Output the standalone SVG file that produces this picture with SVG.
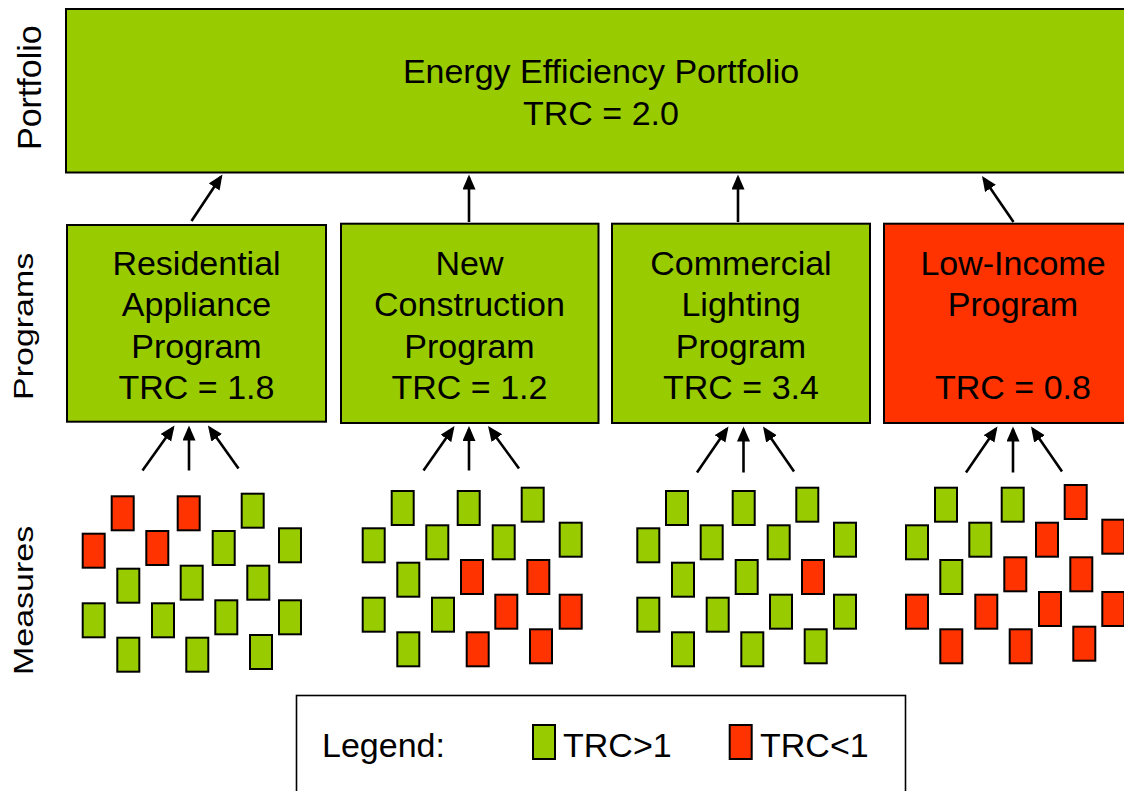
<svg xmlns="http://www.w3.org/2000/svg" width="1124" height="791" viewBox="0 0 1124 791">
<style>
text{font-family:"Liberation Sans",Arial,sans-serif;font-size:34px;fill:#000}
.c{text-anchor:middle}
.box{stroke:#000;stroke-width:2}
.gf{fill:#99CC00}
.rf{fill:#FF3300}
.m rect{stroke:#000;stroke-width:2;width:22px;height:34px}
.m .g{fill:#99CC00}
.m .r{fill:#FF3300}
.ar{stroke:#000;stroke-width:2.6;fill:none;marker-end:url(#ah)}
</style>
<defs>
<marker id="ah" markerUnits="userSpaceOnUse" viewBox="0 0 16 14" markerWidth="16" markerHeight="14" refX="12" refY="6.5" orient="auto">
<path d="M0,0 L15,6.5 L0,13 z" fill="#000"/>
</marker>
</defs>
<rect width="1124" height="791" fill="#fff"/>

<g id="labels">
<text transform="translate(41,150) rotate(-90)">Portfolio</text>
<text transform="translate(33,400) rotate(-90) scale(1,0.82)">Programs</text>
<text transform="translate(33,675) rotate(-90) scale(1,0.82)">Measures</text>
</g>

<g id="portfolio">
<rect class="box gf" x="66" y="9" width="1075" height="163.5"/>
<text class="c" x="601" y="83">Energy Efficiency Portfolio</text>
<text class="c" x="601" y="124.5">TRC = 2.0</text>
</g>

<g id="prog-residential">
<rect class="box gf" x="67" y="225" width="259" height="196.7"/>
<text class="c" x="196.5" y="274.5">Residential</text>
<text class="c" x="196.5" y="316">Appliance</text>
<text class="c" x="196.5" y="357.5">Program</text>
<text class="c" x="196.5" y="399">TRC = 1.8</text>
</g>

<g id="prog-newconstruction">
<rect class="box gf" x="341" y="223.7" width="257.5" height="199.3"/>
<text class="c" x="469.5" y="274.5">New</text>
<text class="c" x="469.5" y="316">Construction</text>
<text class="c" x="469.5" y="357.5">Program</text>
<text class="c" x="469.5" y="399">TRC = 1.2</text>
</g>

<g id="prog-commercial">
<rect class="box gf" x="612" y="223.7" width="258" height="199.3"/>
<text class="c" x="741" y="274.5">Commercial</text>
<text class="c" x="741" y="316">Lighting</text>
<text class="c" x="741" y="357.5">Program</text>
<text class="c" x="741" y="399">TRC = 3.4</text>
</g>

<g id="prog-lowincome">
<rect class="box rf" x="884" y="223.7" width="260" height="199.3"/>
<text class="c" x="1013" y="274.5">Low-Income</text>
<text class="c" x="1013" y="316">Program</text>
<text class="c" x="1013" y="399">TRC = 0.8</text>
</g>

<g id="connectors">
<line class="ar" x1="191.5" y1="221" x2="220.8" y2="177"/>
<line class="ar" x1="469" y1="222" x2="469" y2="177.5"/>
<line class="ar" x1="738" y1="222" x2="738" y2="177.5"/>
<line class="ar" x1="1013.5" y1="222" x2="983.7" y2="178.5"/>

<line class="ar" x1="142.5" y1="470.5" x2="172.8" y2="428"/>
<line class="ar" x1="189" y1="470.5" x2="189" y2="428.5"/>
<line class="ar" x1="238.5" y1="468.5" x2="209.7" y2="428"/>

<line class="ar" x1="423.5" y1="470.5" x2="452.8" y2="428.5"/>
<line class="ar" x1="469" y1="470.5" x2="469" y2="429"/>
<line class="ar" x1="519" y1="468.5" x2="489.8" y2="428.4"/>

<line class="ar" x1="697" y1="472.5" x2="726.8" y2="429"/>
<line class="ar" x1="743.5" y1="472.5" x2="743.5" y2="429.5"/>
<line class="ar" x1="794" y1="471.5" x2="764.7" y2="429"/>

<line class="ar" x1="966" y1="472.5" x2="995.8" y2="429"/>
<line class="ar" x1="1013" y1="472.5" x2="1013" y2="429.5"/>
<line class="ar" x1="1062" y1="471.5" x2="1032.7" y2="429"/>
</g>

<g id="measures-residential" class="m">
<rect class="r" x="111.7" y="496.3" width="22" height="34"/>
<rect class="r" x="177.7" y="496.3" width="22" height="34"/>
<rect class="g" x="241.7" y="493.7" width="22" height="34"/>
<rect class="r" x="82.7" y="533.7" width="22" height="34"/>
<rect class="r" x="146.3" y="531" width="22" height="34"/>
<rect class="g" x="212.7" y="531" width="22" height="34"/>
<rect class="g" x="279" y="528.3" width="22" height="34"/>
<rect class="g" x="117.3" y="568.7" width="22" height="34"/>
<rect class="g" x="180.7" y="565.7" width="22" height="34"/>
<rect class="g" x="247.3" y="565.7" width="22" height="34"/>
<rect class="g" x="82.7" y="603.3" width="22" height="34"/>
<rect class="g" x="152" y="603.3" width="22" height="34"/>
<rect class="g" x="215.3" y="600.3" width="22" height="34"/>
<rect class="g" x="279" y="600.3" width="22" height="34"/>
<rect class="g" x="117.3" y="637.7" width="22" height="34"/>
<rect class="g" x="186.3" y="637.7" width="22" height="34"/>
<rect class="g" x="250" y="635" width="22" height="34"/>
</g>

<g id="measures-newconstruction" class="m">
<rect class="g" x="391.7" y="491" width="22" height="34"/>
<rect class="g" x="457.7" y="491" width="22" height="34"/>
<rect class="g" x="521.7" y="487.7" width="22" height="34"/>
<rect class="g" x="362.7" y="528.3" width="22" height="34"/>
<rect class="g" x="426.3" y="525.3" width="22" height="34"/>
<rect class="g" x="492.7" y="525.3" width="22" height="34"/>
<rect class="g" x="559.7" y="522.7" width="22" height="34"/>
<rect class="g" x="397.3" y="562.7" width="22" height="34"/>
<rect class="r" x="461" y="560" width="22" height="34"/>
<rect class="r" x="527.3" y="560" width="22" height="34"/>
<rect class="g" x="362.7" y="597.7" width="22" height="34"/>
<rect class="g" x="432" y="597.7" width="22" height="34"/>
<rect class="r" x="495.3" y="594.7" width="22" height="34"/>
<rect class="r" x="559.7" y="594.7" width="22" height="34"/>
<rect class="g" x="397.3" y="632.3" width="22" height="34"/>
<rect class="r" x="466.7" y="632.3" width="22" height="34"/>
<rect class="r" x="530" y="629.3" width="22" height="34"/>
</g>

<g id="measures-commercial" class="m">
<rect class="g" x="666" y="491" width="22" height="34"/>
<rect class="g" x="732.7" y="491" width="22" height="34"/>
<rect class="g" x="796.3" y="487.7" width="22" height="34"/>
<rect class="g" x="637.3" y="528.3" width="22" height="34"/>
<rect class="g" x="700.7" y="525.3" width="22" height="34"/>
<rect class="g" x="767.7" y="525.3" width="22" height="34"/>
<rect class="g" x="834" y="522.7" width="22" height="34"/>
<rect class="g" x="672" y="562.7" width="22" height="34"/>
<rect class="g" x="735.7" y="560" width="22" height="34"/>
<rect class="r" x="802" y="560" width="22" height="34"/>
<rect class="g" x="637.3" y="597.7" width="22" height="34"/>
<rect class="g" x="706.7" y="597.7" width="22" height="34"/>
<rect class="g" x="770" y="594.7" width="22" height="34"/>
<rect class="g" x="834" y="594.7" width="22" height="34"/>
<rect class="g" x="672" y="632.3" width="22" height="34"/>
<rect class="g" x="741.3" y="632.3" width="22" height="34"/>
<rect class="g" x="804.7" y="629.3" width="22" height="34"/>
</g>

<g id="measures-lowincome" class="m">
<rect class="g" x="935" y="487.7" width="22" height="34"/>
<rect class="g" x="1001.7" y="487.7" width="22" height="34"/>
<rect class="r" x="1064.7" y="485" width="22" height="34"/>
<rect class="g" x="906" y="525.3" width="22" height="34"/>
<rect class="g" x="969.3" y="522.7" width="22" height="34"/>
<rect class="r" x="1036" y="522.7" width="22" height="34"/>
<rect class="r" x="1102.3" y="519.7" width="22" height="34"/>
<rect class="g" x="940.3" y="560" width="22" height="34"/>
<rect class="r" x="1004.3" y="557.3" width="22" height="34"/>
<rect class="r" x="1070.3" y="557.3" width="22" height="34"/>
<rect class="r" x="906" y="594.7" width="22" height="34"/>
<rect class="r" x="975.3" y="594.7" width="22" height="34"/>
<rect class="r" x="1039" y="592" width="22" height="34"/>
<rect class="r" x="1102.3" y="592" width="22" height="34"/>
<rect class="r" x="940.3" y="629.3" width="22" height="34"/>
<rect class="r" x="1009.7" y="629.3" width="22" height="34"/>
<rect class="r" x="1073.3" y="626.7" width="22" height="34"/>
</g>

<g id="legend">
<rect x="296.5" y="695.5" width="609" height="120" fill="#fff" stroke="#000" stroke-width="1.6"/>
<text x="322" y="757">Legend:</text>
<g class="m">
<rect class="g" x="533" y="725" width="22" height="34"/>
<rect class="r" x="729.7" y="725" width="22" height="34"/>
</g>
<text x="563" y="757">TRC&gt;1</text>
<text x="760" y="757">TRC&lt;1</text>
</g>
</svg>
